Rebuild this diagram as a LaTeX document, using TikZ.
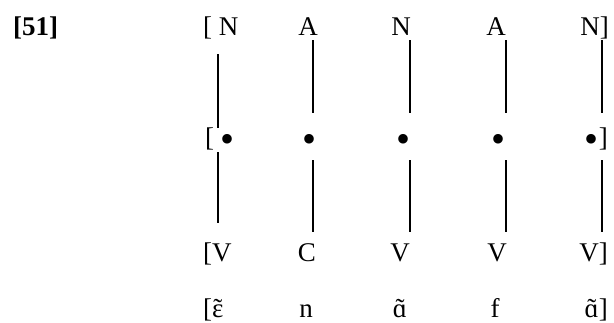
\documentclass[tikz,border=0pt]{standalone}
\usepackage{fontspec}
\setmainfont{Liberation Serif}
\def\nasal#1{{\accent"02DC #1}}
\def\skel{\raisebox{-6pt}{\fontsize{40}{40}\selectfont •}}

\begin{document}
\begin{tikzpicture}[x=1pt,y=-1pt,
    seg/.style={inner sep=0pt, anchor=base, text height=18pt, text depth=0pt, font=\fontsize{27}{32}\selectfont},
    stem/.style={line width=1.2pt}]
			%%%%% START %%%%%
			\useasboundingbox (0,0) rectangle (614,323);
			
			\node[seg, anchor=base west, font=\fontsize{27}{32}\selectfont\bfseries] (ex) at (13,36) {[51]};
			
			% melody tier
			\node[seg, anchor=base west] (t1) at (203,36) {[ N};
			\node[seg] (t2) at (308,36) {A};
			\node[seg] (t3) at (401,36) {N};
			\node[seg] (t4) at (496,36) {A};
			\node[seg, anchor=base east] (t5) at (609,36) {N]};
			
			% skeleton
			\node[seg, anchor=base west] (d1) at (205,147) {[ \skel};
			\node[seg] (d2) at (309,147) {\skel};
			\node[seg] (d3) at (403,147) {\skel};
			\node[seg] (d4) at (498,147) {\skel};
			\node[seg, anchor=base east] (d5) at (608,147) {\skel]};
			
			% CV tier
			\node[seg, anchor=base west] (s1) at (203,262) {[V};
			\node[seg] (s2) at (307,262) {C};
			\node[seg] (s3) at (400,262) {V};
			\node[seg] (s4) at (497,262) {V};
			\node[seg, anchor=base east] (s5) at (608,262) {V]};
			
			% surface form
			\node[seg, anchor=base west] (p1) at (203,318) {[\nasal{ɛ}};
			\node[seg] (p2) at (306,318) {n};
			\node[seg] (p3) at (400,318) {\nasal{ɑ}};
			\node[seg] (p4) at (495,318) {f};
			\node[seg, anchor=base east] (p5) at (608,318) {\nasal{ɑ}]};
			
			% association lines
			\coordinate (l1) at (218,0);
			\coordinate (l2) at (313,0);
			\coordinate (l3) at (410,0);
			\coordinate (l4) at (506,0);
			\coordinate (l5) at (602,0);
			
			\draw[stem, shorten <=18pt, shorten >=1pt] (t1.south -| l1) -- (d1.north -| l1);
			\draw[stem, shorten <=5pt, shorten >=21pt] (d1.south -| l1) -- (s1.north -| l1);
			\foreach \i in {2,...,5} {
				\draw[stem, shorten <=4pt, shorten >=16pt] (t\i.south -| l\i) -- (d\i.north -| l\i);
				\draw[stem, shorten <=13pt, shorten >=12pt] (d\i.south -| l\i) -- (s\i.north -| l\i);
			}
			
			%%%%% END %%%%%
\end{tikzpicture}
\end{document}
